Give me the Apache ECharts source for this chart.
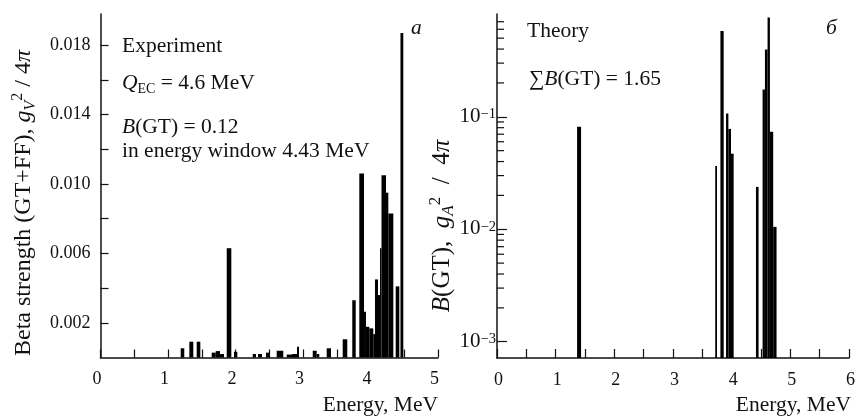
<!DOCTYPE html>
<html>
<head>
<meta charset="utf-8">
<script src="https://cdn.jsdelivr.net/npm/echarts@6/dist/echarts.min.js"></script>
<style>
html,body{margin:0;padding:0;background:#fff;}
#c{width:858px;height:416px;}
</style>
</head>
<body>
<div id="c"></div>
<script>
// ---- Experiment (panel a): histogram bins, energy in MeV, strength in g_V^2/4pi
const expLo = [1.188,1.316,1.425,1.647,1.707,1.770,1.870,1.978,2.255,2.333,2.452,2.610,2.759,2.837,2.911,3.144,3.203,3.351,3.588,3.730,3.834,3.904,3.933,3.982,4.041,4.067,4.111,4.141,4.163,4.230,4.264,4.373,4.444];
const expHi = [1.241,1.375,1.479,1.707,1.770,1.830,1.938,2.027,2.304,2.393,2.511,2.708,2.837,2.911,2.941,3.203,3.241,3.415,3.656,3.781,3.904,3.933,3.982,4.041,4.067,4.111,4.141,4.163,4.230,4.264,4.338,4.427,4.486];
const expVal = [0.00053,0.00091,0.00091,0.00028,0.00037,0.0002,0.0063,0.00033,0.0002,0.0002,0.00028,0.00039,0.00017,0.0002,0.00062,0.00039,0.0002,0.00053,0.00105,0.0033,0.0106,0.00264,0.00177,0.00168,0.00135,0.0045,0.0036,0.0063,0.0105,0.0095,0.0083,0.0041,0.0187];

// ---- Theory (panel b): B(GT) in g_A^2/4pi, log scale
const thLo = [1.365,3.720,3.808,3.904,3.944,3.989,4.414,4.527,4.567,4.612,4.652,4.708];
const thHi = [1.433,3.750,3.864,3.944,3.989,4.034,4.459,4.567,4.612,4.652,4.708,4.765];
const thVal = [0.0815,0.0365,0.58,0.107,0.078,0.047,0.0238,0.175,0.397,0.765,0.0736,0.0105];

// ---- tick values
const expYTicks = [0.002,0.004,0.006,0.008,0.010,0.012,0.014,0.016,0.018];
const expYLabels = [0.002,0.006,0.010,0.014,0.018];
const logMinorTicks = [0.002,0.003,0.004,0.005,0.006,0.007,0.008,0.009,0.02,0.03,0.04,0.05,0.06,0.07,0.08,0.09,0.2,0.3,0.4,0.5,0.6,0.7];

const LOG_MIN = 7.17e-4, LOG_MAX = 0.82;
const FONT = 'Liberation Serif';
const INK = '#111';

function toRows(lo, hi, val){ return lo.map((l,i)=>[l, hi[i], val[i]]); }

function barRenderer(base){
  return function(params, api){
    const p0 = api.coord([api.value(0), api.value(2)]);
    const p1 = api.coord([api.value(1), base]);
    return {type:'rect', shape:{x:p0[0], y:p0[1], width:p1[0]-p0[0], height:p1[1]-p0[1]}, style:{fill:'#000'}};
  };
}

function makeRich(fs){
  const s = Math.round(fs*0.67);
  return {
    n:{fontFamily:FONT, fontSize:fs, color:INK, lineHeight:fs+5},
    i:{fontFamily:FONT, fontSize:fs, fontStyle:'italic', color:INK, lineHeight:fs+5},
    sub:{fontFamily:FONT, fontSize:s, color:INK, verticalAlign:'bottom', lineHeight:s+4},
    isub:{fontFamily:FONT, fontSize:s, fontStyle:'italic', color:INK, verticalAlign:'bottom', lineHeight:s+4},
    sup:{fontFamily:FONT, fontSize:s, color:INK, verticalAlign:'top', lineHeight:s+4}
  };
}
const richA = makeRich(21.5);
const richT = makeRich(24);
const richR = makeRich(25);

function txt(x, y, text, opts){
  opts = opts || {};
  const el = {type:'text', x:x, y:y, silent:true,
    style:{text:text, rich:opts.rich||richA, fontFamily:FONT, fontSize:21, fill:INK,
           align:opts.align||'left', verticalAlign:'middle'}};
  if (opts.rotation) el.rotation = opts.rotation;
  return el;
}

const axisLineStyle = {color:INK, width:1.5};
const chart = echarts.init(document.getElementById('c'), null, {renderer:'canvas'});
chart.setOption({
  animation:false,
  backgroundColor:'#fff',
  grid:[
    {left:100.5, right:420, top:14, bottom:58.5},
    {left:497, right:8, top:14, bottom:58}
  ],
  xAxis:[
    {gridIndex:0, type:'value', min:0, max:5, interval:0.5,
     axisLine:{lineStyle:axisLineStyle}, axisTick:{inside:true, length:8, lineStyle:{color:INK, width:1.2}},
     splitLine:{show:false},
     axisLabel:{margin:13, fontFamily:FONT, fontSize:18, color:INK, padding:[0,7,0,0],
       formatter:v=>Math.abs(v-Math.round(v))<1e-6?String(Math.round(v)):''}},
    {gridIndex:1, type:'value', min:0, max:6, interval:0.5,
     axisLine:{lineStyle:axisLineStyle}, axisTick:{inside:true, length:9, lineStyle:{color:INK, width:1.2}},
     splitLine:{show:false},
     axisLabel:{margin:13, fontFamily:FONT, fontSize:18, color:INK, padding:[0,0,0,3],
       formatter:v=>Math.abs(v-Math.round(v))<1e-6?String(Math.round(v)):''}}
  ],
  yAxis:[
    {gridIndex:0, type:'value', min:0, max:0.0198,
     axisLine:{show:true, lineStyle:axisLineStyle},
     axisTick:{show:true, inside:true, length:8, lineStyle:{color:INK, width:1.2}, customValues:expYTicks},
     splitLine:{show:false},
     axisLabel:{margin:10, fontFamily:FONT, fontSize:18, color:INK, customValues:expYLabels,
       formatter:v=>v.toFixed(3)}},
    {gridIndex:1, type:'log', logBase:10, min:LOG_MIN, max:LOG_MAX,
     axisLine:{show:true, lineStyle:axisLineStyle},
     axisTick:{show:true, inside:true, length:10, lineStyle:{color:INK, width:1.2}},
     splitLine:{show:false}, minorTick:{show:false},
     axisLabel:{margin:1, showMinLabel:false, showMaxLabel:false, color:INK,
       formatter:function(v){
         const e = Math.log10(v); const r = Math.round(e);
         if (Math.abs(e-r) > 1e-4) return '';
         return '{b|10}{s|' + (r<0?'\u2212':'') + Math.abs(r) + '}';
       },
       rich:{b:{fontFamily:FONT, fontSize:21, color:INK, lineHeight:20, verticalAlign:'bottom'},
             s:{fontFamily:FONT, fontSize:14.5, color:INK, lineHeight:15, verticalAlign:'top'}}}}
  ],
  series:[
    {type:'custom', xAxisIndex:0, yAxisIndex:0, silent:true, renderItem:barRenderer(0),
     encode:{x:[0,1], y:2}, data:toRows(expLo, expHi, expVal)},
    {type:'custom', xAxisIndex:1, yAxisIndex:1, silent:true, renderItem:barRenderer(LOG_MIN),
     encode:{x:[0,1], y:2}, data:toRows(thLo, thHi, thVal)},
    {type:'custom', xAxisIndex:1, yAxisIndex:1, silent:true, clip:false,
     renderItem:function(params, api){
       const p = api.coord([0, api.value(0)]);
       return {type:'line', shape:{x1:p[0], y1:p[1], x2:p[0]+7, y2:p[1]}, style:{stroke:INK, lineWidth:1.2}};
     },
     encode:{y:0}, data:logMinorTicks.map(v=>[v])}
  ],
  graphic:[
    txt(122, 46, '{n|Experiment}'),
    txt(122, 83, '{i|Q}{sub|EC}{n| = 4.6 MeV}'),
    txt(122, 127, '{i|B}{n|(GT) = 0.12}'),
    txt(122, 151, '{n|in energy window 4.43 MeV}'),
    txt(411, 28, '{i|\u0430}'),
    txt(527, 31, '{n|Theory}'),
    txt(529, 79, '{n|\u2211}{i|B}{n|(GT) = 1.65}'),
    txt(826, 28, '{i|\u0431}'),
    txt(24, 203, '{n|Beta strength (GT+FF), }{i|g}{isub|V}{sup|2}{n| / 4}{i|\u03c0}',
        {rich:richT, align:'center', rotation:Math.PI/2}),
    txt(442, 226, '{i|B}{n|(GT),  }{i|g}{isub|A}{sup|2}{n|  /  4}{i|\u03c0}',
        {rich:richR, align:'center', rotation:Math.PI/2}),
    txt(438, 405, '{n|Energy, MeV}', {align:'right'}),
    txt(851, 405, '{n|Energy, MeV}', {align:'right'})
  ]
});
</script>
</body>
</html>
